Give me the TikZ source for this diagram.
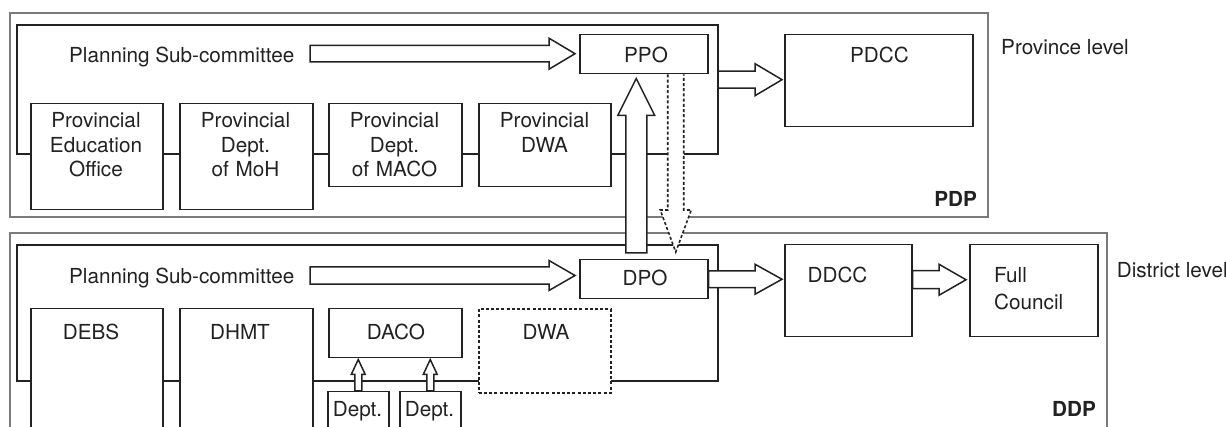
\documentclass[tikz,border=0pt]{standalone}
\usepackage{fontspec}
\setmainfont{TeX Gyre Heros}
\usetikzlibrary{calc}
\definecolor{ink}{HTML}{222222}
\definecolor{framecol}{HTML}{7A7A7A}
% horizontal hollow block arrow: #1 start, #2 tip, #3 shaft half width, #4 head half width, #5 head length
\newcommand\hblock[5]{%
  \filldraw[blk] ($(#1)+(0,-#3)$) -- ($(#2)+(-#5,-#3)$) -- ($(#2)+(-#5,-#4)$) -- (#2)
    -- ($(#2)+(-#5,#4)$) -- ($(#2)+(-#5,#3)$) -- ($(#1)+(0,#3)$) -- cycle;}
% vertical hollow block arrow: #1 base, #2 tip, #3 shaft half, #4 head half, #5 signed head length
\newcommand\vblock[5]{%
  \filldraw[blk] ($(#1)+(-#3,0)$) -- ($(#2)+(-#3,#5)$) -- ($(#2)+(-#4,#5)$) -- (#2)
    -- ($(#2)+(#4,#5)$) -- ($(#2)+(#3,#5)$) -- ($(#1)+(#3,0)$) -- cycle;}
\begin{document}
\begin{tikzpicture}[x=1pt,y=-1pt,
  every node/.style={inner sep=0pt, text=ink},
  txt/.style={font=\fontsize{20.7}{24.5}\selectfont},
  boldtxt/.style={font=\fontsize{20.7}{24.5}\selectfont\bfseries},
  outerframe/.style={draw=framecol, line width=1.3pt},
  innerframe/.style={draw=ink, line width=1.5pt},
  box/.style={draw=ink, line width=1.5pt, fill=white, anchor=north west},
  dotbox/.style={box, line width=1.6pt, dash pattern=on 3pt off 2.2pt},
  blk/.style={draw=ink, fill=white, line width=1.5pt, line join=miter},
  dotline/.style={draw=ink, line width=1.6pt, dash pattern=on 3pt off 2.2pt}]
\useasboundingbox (0,0) rectangle (1226,427);
\clip (0,0) rectangle (1226,427);
\fill[white] (0,0) rectangle (1226,427);

% frames
\draw[outerframe] (10,13) rectangle (988,217);
\draw[outerframe] (10,440) -- (10,233) -- (1107,233) -- (1107,440);
\draw[innerframe] (17,25) rectangle (718,154);
\draw[innerframe] (17,245) rectangle (718,381);

% province boxes
\node[box, minimum width=132pt, minimum height=106pt] (peo) at (30,103) {};
\node[box, minimum width=133pt, minimum height=106pt] (pmoh) at (179,103) {};
\node[box, minimum width=133pt, minimum height=83pt] (pmaco) at (328,103) {};
\node[box, minimum width=132pt, minimum height=83pt] (pdwa) at (478,103) {};
\node[box, minimum width=128pt, minimum height=39pt] (ppo) at (579,34) {};
\node[box, minimum width=188pt, minimum height=92pt] (pdcc) at (784,34) {};

% district boxes
\node[box, minimum width=132pt, minimum height=140pt] (debs) at (30,308) {};
\node[box, minimum width=133pt, minimum height=140pt] (dhmt) at (179,308) {};
\node[box, minimum width=133pt, minimum height=49pt] (daco) at (328,308) {};
\node[dotbox, minimum width=132pt, minimum height=84pt] (dwa) at (478,308) {};
\node[box, minimum width=128pt, minimum height=39pt] (dpo) at (579,259) {};
\node[box, minimum width=127pt, minimum height=92pt] (ddcc) at (784,244) {};
\node[box, minimum width=128pt, minimum height=92pt] (fc) at (969,244) {};
\node[box, minimum width=61pt, minimum height=60pt] (dept1) at (327,391) {};
\node[box, minimum width=61pt, minimum height=60pt] (dept2) at (399,391) {};

% texts
\node[txt, anchor=base] (psc) at (181.7,62.5) {Planning Sub-committee};
\node[txt, anchor=base] (ppot) at (646,62.7) {PPO};
\node[txt, anchor=base] (pdcct) at (879.5,63) {PDCC};
\node[txt, anchor=base west] (plev) at (1001,54.5) {Province level};
\node[boldtxt, anchor=base east] (pdp) at (977,206.7) {PDP};
\node[txt, text width=130pt, align=center, anchor=base] (peot) at (96,127.7) {Provincial\\Education\\Office};
\node[txt, text width=130pt, align=center, anchor=base] (pmoht) at (245.5,127.7) {Provincial\\Dept.\\of MoH};
\node[txt, text width=130pt, align=center, anchor=base] (pmacot) at (394.5,127.7) {Provincial\\Dept.\\of MACO};
\node[txt, text width=130pt, align=center, anchor=base] (pdwat) at (544.5,127.7) {Provincial\\DWA};

\node[txt, anchor=base] (dsc) at (181.7,284) {Planning Sub-committee};
\node[txt, anchor=base] (dpot) at (645,285.5) {DPO};
\node[txt, anchor=base] (ddcct) at (837.5,283) {DDCC};
\node[txt, font=\fontsize{20.7}{27}\selectfont, text width=100pt, align=left, anchor=base west] (fct) at (994,283) {Full\\Council};
\node[txt, anchor=base west] (dlev) at (1116.7,277.7) {District level};
\node[boldtxt, anchor=base east] (ddp) at (1096,417) {DDP};
\node[txt, anchor=base] (debst) at (91,340) {DEBS};
\node[txt, anchor=base] (dhmtt) at (240,340) {DHMT};
\node[txt, anchor=base] (dacot) at (396,340) {DACO};
\node[txt, anchor=base] (dwat) at (546,340) {DWA};
\node[txt, anchor=base] (dept1t) at (357.5,417) {Dept.};
\node[txt, anchor=base] (dept2t) at (429.5,417) {Dept.};

% arrows
\coordinate (a1s) at (310,53.7);
\coordinate (a1e) at ($(ppo.west |- a1s)+(-4,0)$);
\hblock{a1s}{a1e}{8.3}{15.5}{26}
\coordinate (a2s) at (718,79.7);
\coordinate (a2e) at ($(pdcc.west |- a2s)+(-2,0)$);
\hblock{a2s}{a2e}{8.5}{16}{27}
\coordinate (a3s) at (310,275.5);
\coordinate (a3e) at ($(dpo.west |- a3s)+(-4,0)$);
\hblock{a3s}{a3e}{8.7}{15}{26}
\coordinate (a4e) at ($(ddcc.west |- dpo.east)+(-2,0)$);
\hblock{dpo.east}{a4e}{8.3}{15}{27}
\coordinate (a5s) at ($(ddcc.east)+(0,-11)$);
\coordinate (a5e) at ($(fc.west |- a5s)+(-3,0)$);
\hblock{a5s}{a5e}{9}{15.5}{27}

% up arrow DPO -> PPO
\coordinate (ups) at ($(dpo.north)+(-7.5,-6)$);
\coordinate (upe) at ($(ppo.south)+(-7.5,4)$);
\vblock{ups}{upe}{10.5}{18.5}{37}

% dotted down arrow PPO -> DPO
\coordinate (dns) at ($(ppo.south)+(32,0)$);
\coordinate (dne) at ($(dpo.north)+(32,-7)$);
\fill[white] ($(dns)+(-8,1)$) -- ($(dne)+(-8,-42)$) -- ($(dne)+(-15.5,-42)$) -- (dne)
   -- ($(dne)+(15.5,-42)$) -- ($(dne)+(8,-42)$) -- ($(dns)+(8,1)$) -- cycle;
\draw[dotline] ($(dns)+(-8,0)$) -- ($(dne)+(-8,-42)$) -- ($(dne)+(-15.5,-42)$) -- (dne)
   -- ($(dne)+(15.5,-42)$) -- ($(dne)+(8,-42)$) -- ($(dns)+(8,0)$);

% Dept -> DACO arrows
\coordinate (d1e) at ($(dept1.north |- daco.south)+(0,1)$);
\vblock{dept1.north}{d1e}{3.5}{7}{15}
\coordinate (d2e) at ($(dept2.north |- daco.south)+(0,1)$);
\vblock{dept2.north}{d2e}{3.5}{7}{15}
\end{tikzpicture}
\end{document}
